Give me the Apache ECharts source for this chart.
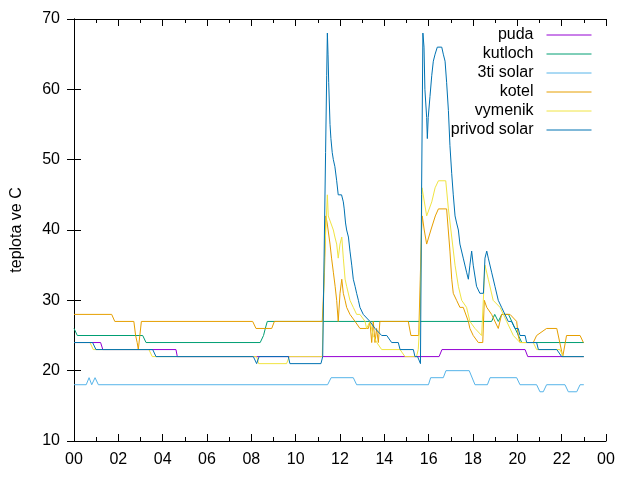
<!DOCTYPE html>
<html>
<head>
<meta charset="utf-8">
<script src="https://cdn.jsdelivr.net/npm/echarts@6/dist/echarts.min.js"></script>
<style>html,body{margin:0;padding:0;background:#fff}#c{width:640px;height:480px}</style>
</head>
<body>
<div id="c"></div>
<script>
const seriesNames = ['puda','kutloch','3ti solar','kotel','vymenik','privod solar'];
const xTicks = [0,2,4,6,8,10,12,14,16,18,20,22,24];

const puda = [[0,24],[1.2,24],[1.3,23],[4.6,23],[4.66,22],[16.47,22],[16.6,23],[20.35,23],[20.47,22],[23.0,22]];

const kutloch = [[0,26],[0.15,25],[3.1,25],[3.25,24],[8.4,24],[8.55,25],[8.63,26],[8.72,27],[18.84,27],[18.98,28],[19.14,27],[19.3,28],[19.6,28],[19.75,27],[19.9,26],[20.05,25],[20.2,24],[23.0,24]];

const tretiSolar = [[0,18],[0.55,18],[0.68,19],[0.8,18],[0.95,19],[1.1,18],[11.44,18],[11.6,19],[12.6,19],[12.75,18],[15.99,18],[16.09,19],[16.66,19],[16.78,20],[17.83,20],[18.09,18],[18.65,18],[18.77,19],[19.97,19],[20.12,18],[20.87,18],[21.02,17],[21.17,17],[21.32,18],[22.15,18],[22.3,17],[22.68,17],[22.83,18],[23.0,18]];

const kotel = [[0,28],[1.7,28],[1.84,27],[2.7,27],[2.78,25],[2.85,24],[2.9,23],[2.97,25],[3.04,27],[8.06,27],[8.21,26],[8.92,26],[9.04,27],[11.2,27],[11.3,34],[11.36,42],[11.42,41],[11.55,38],[11.62,36],[11.7,34],[11.78,32],[11.85,30],[11.92,27],[12.0,31],[12.08,33],[12.15,31],[12.23,30],[12.3,29],[12.45,28],[12.68,27],[12.9,26],[13.28,26],[13.35,27],[13.43,24],[13.5,27],[13.58,24],[13.65,26],[13.73,24],[13.8,27],[15.08,27],[15.2,25],[15.55,25],[15.62,33],[15.68,40],[15.71,42],[15.8,40],[15.91,38],[16.1,40],[16.3,42],[16.44,43],[16.81,43],[16.96,37],[17.04,33],[17.11,31],[17.26,30],[17.41,29],[17.56,29],[17.79,27],[17.86,26],[18.01,25],[18.24,24],[18.44,24],[18.51,30],[18.62,29],[18.84,28],[19.14,26],[19.29,28],[19.67,28],[19.97,27],[20.04,25],[20.12,24],[20.72,24],[20.87,25],[21.32,26],[21.78,26],[22.05,22],[22.22,25],[22.83,25],[22.98,24]];

const vymenik = [[0,24],[0.72,24],[0.87,23],[3.38,23],[3.53,22],[8.24,22],[8.33,21],[9.59,21],[9.71,22],[11.2,22],[11.3,36],[11.43,45],[11.47,42],[11.55,42],[11.7,40],[11.77,39],[11.85,38],[11.92,36],[12.0,38],[12.08,39],[12.15,36],[12.23,33],[12.3,32],[12.45,30],[12.6,29],[12.75,28],[12.9,28],[13.13,27],[13.2,26],[13.35,27],[13.5,25],[13.66,24],[13.88,23],[14.71,23],[14.93,22],[15.45,22],[15.53,23],[15.62,28],[15.7,46],[15.76,46],[15.91,42],[16.14,44],[16.29,46],[16.44,47],[16.77,47],[16.89,43],[17.04,39],[17.19,35],[17.34,32],[17.49,30],[17.71,29],[17.86,27],[18.09,26],[18.39,25],[18.47,25],[18.54,35],[18.69,33],[18.91,30],[19.22,29],[19.52,27],[19.82,25],[20.12,24],[20.72,24],[20.87,23],[21.92,23],[22.07,22],[23.0,22]];

const privodSolar = [[0,24],[0.84,24],[0.99,23],[3.55,23],[3.7,22],[8.09,22],[8.24,21],[8.35,22],[9.67,22],[9.74,21],[11.14,21],[11.22,22],[11.3,40],[11.35,51],[11.4,62],[11.43,68],[11.46,65],[11.49,61],[11.55,55],[11.59,53],[11.65,51],[11.7,50],[11.77,49],[11.85,47],[11.92,45],[12.07,45],[12.15,44],[12.19,43],[12.25,41],[12.3,40],[12.38,39],[12.45,37],[12.53,35],[12.6,33],[12.68,32],[12.75,31],[12.83,30],[12.9,29],[13.05,28],[13.13,28],[13.35,27],[13.58,26],[13.88,25],[14.11,25],[14.33,24],[14.63,24],[14.71,23],[15.31,23],[15.38,22],[15.5,22],[15.63,21],[15.68,45],[15.74,68],[15.79,66],[15.83,60],[15.91,56],[15.94,53],[15.98,56],[16.06,59],[16.14,62],[16.21,64],[16.29,65],[16.39,66],[16.59,66],[16.66,65],[16.74,64],[16.81,61],[16.89,57],[16.96,52],[17.04,48],[17.11,45],[17.19,42],[17.26,41],[17.34,40],[17.41,38],[17.56,36],[17.71,34],[17.79,33],[17.86,35],[17.94,37],[18.01,35],[18.16,32],[18.31,31],[18.47,31],[18.54,36],[18.62,37],[18.69,36],[18.84,34],[18.99,32],[19.14,30],[19.29,29],[19.44,28],[19.59,27],[19.74,27],[19.89,26],[20.04,26],[20.12,25],[20.35,25],[20.42,24],[20.87,24],[20.95,23],[21.78,23],[22.0,22],[23.0,22]];

const allData = [puda, kutloch, tretiSolar, kotel, vymenik, privodSolar];
const colors = ['#9400d3','#009e73','#56b4e9','#e69f00','#f0e442','#0072b2'];

const FONT = 'Liberation Sans, Arial, sans-serif';
const FS = 16;
const pad2 = v => String(((v % 24) + 24) % 24).padStart(2, '0');

const chart = echarts.init(document.getElementById('c'), null, {renderer: 'canvas'});
const axisLine = {show: true, lineStyle: {color: '#000', width: 1}};
chart.setOption({
  animation: false,
  backgroundColor: '#fff',
  grid: {left: 74, right: 34, top: 19, bottom: 39, containLabel: false, outerBoundsMode: 'none'},
  legend: {
    data: seriesNames,
    orient: 'vertical',
    align: 'right',
    right: 43,
    top: 20.5,
    itemWidth: 45,
    itemHeight: 14,
    itemGap: 0,
    itemStyle: {opacity: 0},
    lineStyle: {width: 1},
    textStyle: {fontFamily: FONT, fontSize: FS, color: '#000', lineHeight: 19, padding: [0, 8, 0, 0]}
  },
  xAxis: [{
    type: 'value', min: 0, max: 24, interval: 2,
    axisLine: axisLine,
    axisTick: {show: true, inside: true, length: 7, lineStyle: {color: '#000'}},
    minorTick: {show: true, splitNumber: 2, length: 4, lineStyle: {color: '#000'}},
    splitLine: {show: false},
    axisLabel: {formatter: pad2, fontFamily: FONT, fontSize: FS, color: '#000', margin: 11}
  }, {
    type: 'value', min: 0, max: 24, interval: 2, position: 'top',
    axisLine: axisLine,
    axisTick: {show: true, inside: true, length: 7, lineStyle: {color: '#000'}},
    minorTick: {show: true, splitNumber: 2, length: 4, lineStyle: {color: '#000'}},
    splitLine: {show: false},
    axisLabel: {show: false}
  }],
  yAxis: [{
    type: 'value', min: 10, max: 70, interval: 10,
    name: 'teplota ve C', nameLocation: 'middle', nameGap: 49, nameRotate: 90,
    nameTextStyle: {fontFamily: FONT, fontSize: FS, color: '#000'},
    axisLine: axisLine,
    axisTick: {show: true, inside: true, length: 7, lineStyle: {color: '#000'}},
    splitLine: {show: false},
    axisLabel: {fontFamily: FONT, fontSize: FS, color: '#000', margin: 14}
  }, {
    type: 'value', min: 10, max: 70, interval: 10, position: 'right',
    axisLine: axisLine,
    axisTick: {show: true, inside: true, length: 7, lineStyle: {color: '#000'}},
    splitLine: {show: false},
    axisLabel: {show: false}
  }],
  series: seriesNames.map((n, i) => ({
    name: n,
    type: 'line',
    data: allData[i],
    symbol: 'none',
    showSymbol: false,
    color: colors[i],
    lineStyle: {width: 1, color: colors[i]},
    xAxisIndex: 0, yAxisIndex: 0
  }))
});
</script>
</body>
</html>
